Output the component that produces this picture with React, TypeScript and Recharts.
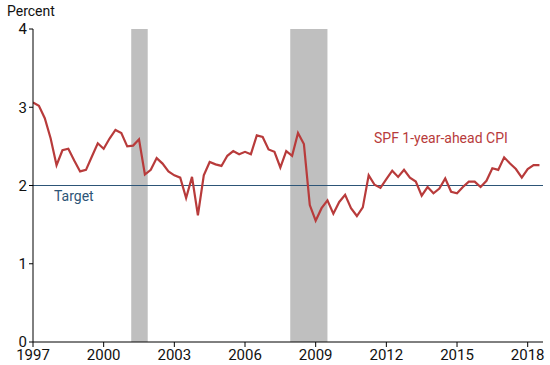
import {
  CartesianGrid,
  Line,
  LineChart,
  ReferenceArea,
  ReferenceLine,
  XAxis,
  YAxis,
} from 'recharts';

// quarterly, 1997Q1 .. 2018Q3
const spfCpi = [
  3.06, 3.02, 2.86, 2.6,
  2.26, 2.45, 2.47, 2.32,
  2.18, 2.2, 2.37, 2.54,
  2.47, 2.6, 2.71, 2.67,
  2.5, 2.51, 2.59, 2.14,
  2.2, 2.35, 2.28, 2.18,
  2.13, 2.1, 1.84, 2.11,
  1.62, 2.13, 2.3, 2.27,
  2.25, 2.38, 2.44, 2.4,
  2.43, 2.4, 2.64, 2.62,
  2.46, 2.43, 2.23, 2.44,
  2.38, 2.67, 2.53, 1.75,
  1.55, 1.71, 1.81, 1.64,
  1.79, 1.88, 1.71, 1.61,
  1.72, 2.13, 2.01, 1.97,
  2.08, 2.19, 2.11, 2.2,
  2.1, 2.05, 1.87, 1.98,
  1.9, 1.96, 2.09, 1.92,
  1.9, 1.98, 2.05, 2.05,
  1.98, 2.06, 2.22, 2.2,
  2.36, 2.28, 2.21, 2.1,
  2.21, 2.26, 2.26,
];
const startYear = 1997;
const xTicks = [1997, 2000, 2003, 2006, 2009, 2012, 2015, 2018];
const yTicks = [0, 1, 2, 3, 4];
const recessionStart = [2001.17, 2007.92];
const recessionEnd = [2001.87, 2009.5];
const target = 2;

const data = spfCpi.map((v, i) => ({ t: startYear + i / 4, v }));

const RED = '#b83b3b';
const BLUE = '#2d5577';
const font = 'Roboto, "Open Sans", sans-serif';

export default function App() {
  const tick = { fontSize: 15, fill: '#111', fontFamily: font };
  return (
    <div style={{ position: 'absolute', left: 0, top: 0, width: 550, height: 365, background: '#fff', fontFamily: font }}>
      <LineChart width={550} height={365} data={data} margin={{ top: 29, right: 7, left: 0, bottom: 0 }}>
        <CartesianGrid stroke="none" />
        {recessionStart.map((s, i) => (
          <ReferenceArea key={i} x1={s} x2={recessionEnd[i]} y1={0} y2={4} fill="#bfbfbf" fillOpacity={1} stroke="none" ifOverflow="hidden" />
        ))}
        <ReferenceLine y={target} stroke={BLUE} strokeWidth={1.2} />
        <XAxis
          dataKey="t"
          type="number"
          domain={[1997, 2018.65]}
          ticks={xTicks}
          tick={tick}
          tickSize={5}
          tickLine={{ stroke: '#000' }}
          axisLine={{ stroke: '#000' }}
          height={23}
          allowDataOverflow
        />
        <YAxis
          type="number"
          domain={[0, 4]}
          ticks={yTicks}
          tick={tick}
          tickSize={4}
          tickLine={{ stroke: '#000' }}
          axisLine={{ stroke: '#000' }}
          width={33}
        />
        <Line type="linear" dataKey="v" stroke={RED} strokeWidth={2.2} dot={false} isAnimationActive={false} />
      </LineChart>
      <div style={{ position: 'absolute', left: 7, top: 3, fontSize: 14, color: '#111' }}>Percent</div>
      <div style={{ position: 'absolute', left: 54, top: 188, fontSize: 14, color: BLUE }}>Target</div>
      <div style={{ position: 'absolute', left: 374, top: 130, fontSize: 14, color: RED }}>SPF 1-year-ahead CPI</div>
    </div>
  );
}
